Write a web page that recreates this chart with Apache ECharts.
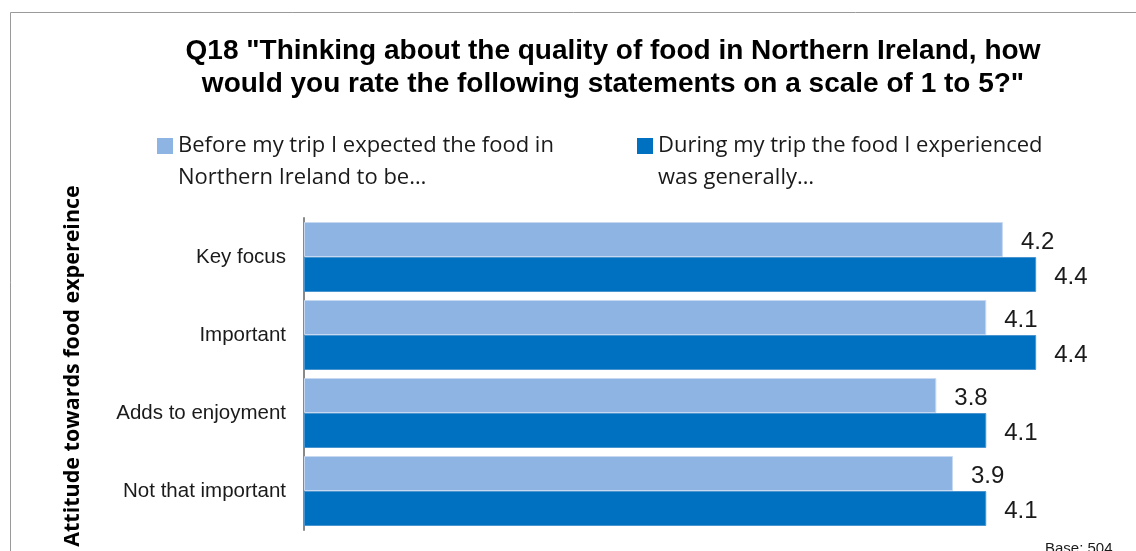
<!DOCTYPE html>
<html>
<head>
<meta charset="utf-8">
<script src="https://cdn.jsdelivr.net/npm/echarts@6/dist/echarts.min.js"></script>
<style>
  html, body { margin: 0; padding: 0; background: #ffffff; }
  #chart { width: 1136px; height: 551px; }
</style>
</head>
<body>
<div id="chart"></div>
<script>
// Ratings on a 1 to 5 scale, one pair of bars per attitude group
const categories = ['Key focus', 'Important', 'Adds to enjoyment', 'Not that important'];
const seriesNames = [
  'Before my trip I expected the food in\nNorthern Ireland to be…',
  'During my trip the food I experienced\nwas generally…'
];
const expectedValues = [4.2, 4.1, 3.8, 3.9];
const experiencedValues = [4.4, 4.4, 4.1, 4.1];

const titleText = 'Q18 "Thinking about the quality of food in Northern Ireland, how\nwould you rate the following statements on a scale of 1 to 5?"';
const axisTitle = 'Attitude towards food expereince';
const baseNote = 'Base: 504';

const lightBlue = '#8EB4E3';
const darkBlue = '#0070C0';
const legendFont = '"Open Sans", Lato, sans-serif';
const arial = 'Arial, "Liberation Sans", Helvetica, sans-serif';

const chart = echarts.init(document.getElementById('chart'), null, { renderer: 'canvas' });

const valueLabel = {
  show: true,
  position: 'right',
  distance: 18,
  offset: [0, 3],
  color: '#1a1a1a',
  fontFamily: arial,
  fontSize: 24,
  formatter: p => p.value.toFixed(1)
};

// A blank first line keeps the legend swatch level with the first text line
const legendCommon = {
  orient: 'horizontal',
  padding: 0,
  itemWidth: 16,
  itemHeight: 16,
  itemGap: 0,
  icon: 'rect',
  selectedMode: false,
  itemStyle: { borderWidth: 0 },
  formatter: name => '\n' + name,
  textStyle: {
    fontFamily: legendFont,
    fontSize: 22,
    lineHeight: 32,
    color: '#1a1a1a'
  }
};

chart.setOption({
  backgroundColor: '#ffffff',
  animation: false,
  title: {
    text: titleText,
    left: 613,
    top: 35,
    textAlign: 'center',
    padding: 0,
    textStyle: {
      fontFamily: arial,
      fontWeight: 'bold',
      fontSize: 28,
      lineHeight: 33,
      color: '#000000'
    }
  },
  legend: [
    Object.assign({}, legendCommon, { left: 157, top: 98, data: [seriesNames[0]] }),
    Object.assign({}, legendCommon, { left: 637, top: 98, data: [seriesNames[1]] })
  ],
  grid: { left: 304, top: 218, width: 832, height: 312, containLabel: false },
  xAxis: {
    type: 'value',
    min: 0,
    max: 5,
    show: false
  },
  yAxis: {
    type: 'category',
    data: categories,
    inverse: true,
    axisLine: { show: true, lineStyle: { color: '#898989', width: 2 } },
    axisTick: { show: false },
    splitLine: { show: false },
    axisLabel: {
      margin: 18,
      color: '#1a1a1a',
      fontFamily: arial,
      fontSize: 20.5
    }
  },
  series: [
    {
      name: seriesNames[0],
      type: 'bar',
      data: expectedValues,
      barWidth: 35,
      barGap: '0%',
      itemStyle: { color: lightBlue, borderColor: '#c6d9f1', borderWidth: 1 },
      label: valueLabel
    },
    {
      name: seriesNames[1],
      type: 'bar',
      data: experiencedValues,
      barWidth: 35,
      barGap: '0%',
      itemStyle: { color: darkBlue, borderColor: '#4a95d0', borderWidth: 1 },
      label: valueLabel
    }
  ],
  graphic: [
    {
      type: 'rect',
      silent: true,
      shape: { x: 10.5, y: 12.5, width: 1300, height: 700 },
      style: { fill: null, stroke: '#9a9a9a', lineWidth: 1 }
    },
    {
      type: 'text',
      silent: true,
      x: 73,
      y: 366,
      rotation: Math.PI / 2,
      style: {
        text: axisTitle,
        fontFamily: legendFont,
        fontWeight: 'bold',
        fontSize: 21.5,
        fill: '#000000',
        textAlign: 'center',
        textVerticalAlign: 'middle'
      }
    },
    {
      type: 'text',
      silent: true,
      x: 1045,
      y: 541,
      style: {
        text: baseNote,
        fontFamily: arial,
        fontSize: 15,
        fill: '#1a1a1a',
        textAlign: 'left',
        textVerticalAlign: 'top'
      }
    }
  ]
});
</script>
</body>
</html>
